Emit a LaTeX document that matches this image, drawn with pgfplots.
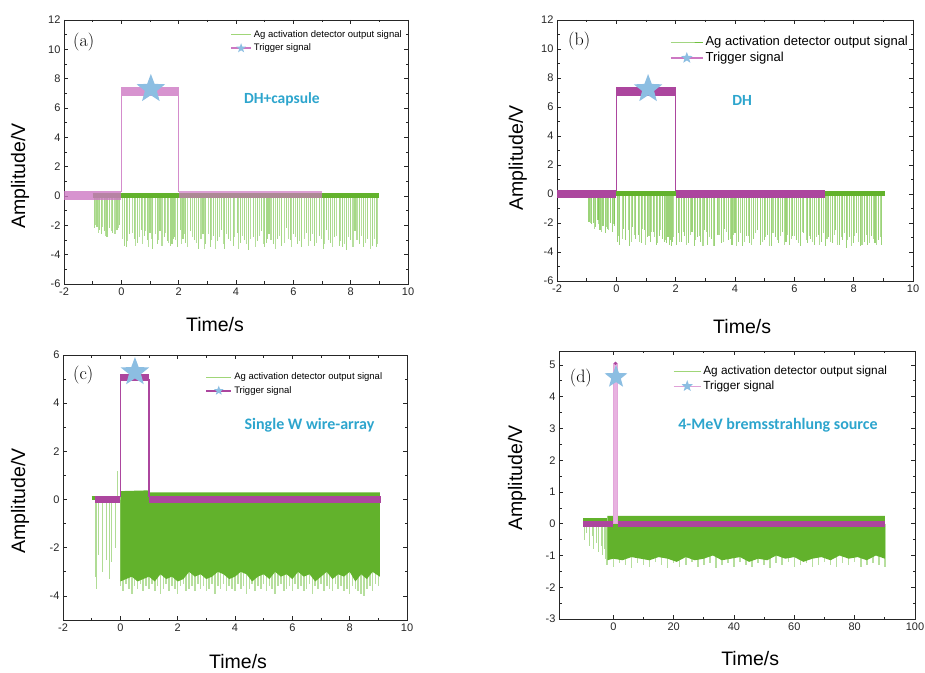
\documentclass[border=0pt]{standalone}
\usepackage{pgfplots}
\pgfplotsset{compat=1.18}
\usepackage{fontspec}
\setsansfont{Liberation Sans}
\newfontfamily\calib{Carlito}
\definecolor{gbase}{RGB}{98,178,44}
\definecolor{gspike}{RGB}{112,192,62}
\definecolor{glight}{RGB}{160,214,120}
\definecolor{magA}{RGB}{205,120,195}
\definecolor{magB}{RGB}{172,70,158}
\definecolor{pinkL}{RGB}{232,178,224}
\definecolor{starblue}{RGB}{140,190,226}
\definecolor{annot}{RGB}{45,165,205}
\pgfdeclareplotmark{fstar}{%
  \pgfpathmoveto{\pgfpointpolar{90}{\pgfplotmarksize}}%
  \pgfpathlineto{\pgfpointpolar{126}{0.42\pgfplotmarksize}}%
  \pgfpathlineto{\pgfpointpolar{162}{\pgfplotmarksize}}%
  \pgfpathlineto{\pgfpointpolar{198}{0.42\pgfplotmarksize}}%
  \pgfpathlineto{\pgfpointpolar{234}{\pgfplotmarksize}}%
  \pgfpathlineto{\pgfpointpolar{270}{0.42\pgfplotmarksize}}%
  \pgfpathlineto{\pgfpointpolar{306}{\pgfplotmarksize}}%
  \pgfpathlineto{\pgfpointpolar{342}{0.42\pgfplotmarksize}}%
  \pgfpathlineto{\pgfpointpolar{18}{\pgfplotmarksize}}%
  \pgfpathlineto{\pgfpointpolar{54}{0.42\pgfplotmarksize}}%
  \pgfpathclose\pgfusepathqfill}
\pgfplotsset{panel/.style={
  scale only axis, anchor=south west,
  axis line style={line width=0.8pt, black!85},
  xtick pos=both, ytick pos=both, tick align=inside,
  major tick length=4pt, minor tick length=2.5pt,
  every tick/.style={black!85, line width=0.7pt},
  minor x tick num=1, minor y tick num=1,
  ticklabel style={font=\sffamily\fontsize{11}{11}\selectfont, text=black!85},
  /pgf/number format/assume math mode=true,
  xlabel={Time/s}, ylabel={Amplitude/V},
  label style={font=\sffamily\fontsize{19.5}{20}\selectfont},
  legend cell align=left,
  legend style={draw=none, fill=none, anchor=north west, inner sep=0pt, row sep=1pt},
}}
\begin{document}
\begin{tikzpicture}
\useasboundingbox (0,0) rectangle (925pt,672pt);
% ---------------- (a)
\begin{axis}[panel, at={(64pt,388pt)}, width=344pt, height=264pt,
  xmin=-2, xmax=10, ymin=-6, ymax=12,
  xtick={-2,0,...,10}, ytick={-6,-4,...,12},
  xlabel style={at={(axis description cs:0.439,-0.155)}, anchor=center},
  ylabel style={at={(axis description cs:-0.128,0.409)}, anchor=center},
  legend style={at={(rel axis cs:0.483,0.968)}, font=\sffamily\fontsize{9.5}{10}\selectfont},
  legend image code/.code={\draw[mark repeat=2,mark phase=2,#1] plot coordinates {(0pt,0pt)(10pt,0pt)(20pt,0pt)};}]
\addlegendimage{glight, line width=0.8pt}
\addlegendentry{Ag activation detector output signal}
\addlegendimage{magA, line width=1.5pt, mark=fstar, mark size=5pt, mark options={fill=starblue, draw=none}}
\addlegendentry{Trigger signal}
\addplot[ycomb, draw=gspike, line width=1.1pt, opacity=0.62, forget plot] coordinates {
(-0.95,-2.2)(-0.85,-2.1)(-0.75,-2.3)(-0.7,-2.6)(-0.6,-2.4)(-0.5,-2.8)(-0.42,-2.2)(-0.3,-2.5)(-0.15,-2.3)(-0.05,-2.0)
(0.1,-3.4)(0.18,-3.5)(0.3,-2.6)(0.45,-2.9)(0.55,-3.2)(0.7,-2.3)(0.8,-2.7)(0.9,-3.0)(1.0,-2.5)(1.1,-3.6)(1.25,-3.3)(1.35,-2.4)(1.5,-2.8)(1.6,-3.1)(1.7,-2.2)(1.73,-3.4)(1.76,-3.3)(1.8,-3.3)(1.83,-2.9)(1.86,-2.8)(1.95,-3.5)
(2.05,-2.3)(2.15,-2.9)(2.25,-3.2)(2.4,-2.4)(2.55,-3.0)(2.7,-3.6)(2.85,-2.6)(2.95,-3.3)(3.1,-3.5)(3.2,-2.7)(3.35,-3.1)(3.5,-2.3)(3.6,-3.6)(3.75,-2.9)(3.9,-3.4)
(4.05,-2.5)(4.15,-3.2)(4.3,-3.0)(4.45,-3.7)(4.6,-2.8)(4.75,-3.1)(4.9,-2.4)(5.0,-3.5)(5.05,-3.2)(5.1,-2.9)(5.15,-2.6)(5.3,-3.3)(5.45,-2.9)(5.6,-3.4)(5.75,-2.2)(5.9,-3.0)
(6.0,-2.6)(6.15,-3.3)(6.3,-3.5)(6.45,-2.5)(6.6,-3.1)(6.75,-3.4)(6.9,-2.7)(7.05,-3.6)(7.15,-2.3)(7.3,-3.2)(7.45,-2.8)(7.6,-3.4)(7.7,-3.5)(7.85,-3.7)
(8.0,-3.0)(8.15,-2.4)(8.3,-3.3)(8.45,-3.5)(8.6,-2.9)(8.75,-3.4)(8.9,-3.5)};
\addplot[ycomb, draw=gspike, line width=1.1pt, opacity=0.5, forget plot] coordinates {
(-0.9,-2.0)(-0.8,-2.5)(-0.65,-2.1)(-0.55,-2.7)(-0.35,-2.4)(-0.22,-2.6)(-0.1,-2.2)(0.05,-2.9)(0.22,-3.1)(0.38,-2.5)(0.5,-3.4)(0.62,-2.8)(0.75,-3.3)(0.85,-2.4)(0.95,-3.5)(1.05,-2.9)(1.18,-2.6)(1.3,-3.0)(1.42,-3.4)(1.55,-2.5)(1.65,-3.2)(1.9,-3.0)
(2.1,-3.3)(2.2,-2.6)(2.32,-3.5)(2.48,-2.8)(2.62,-3.2)(2.78,-2.9)(2.9,-3.6)(3.05,-2.6)(3.15,-3.0)(3.28,-3.6)(3.42,-2.8)(3.55,-3.3)(3.68,-2.6)(3.82,-3.1)(3.95,-2.8)
(4.1,-3.6)(4.22,-2.7)(4.38,-3.3)(4.52,-2.9)(4.68,-3.5)(4.82,-2.7)(4.95,-3.3)(5.22,-3.0)(5.38,-3.6)(5.52,-2.7)(5.68,-3.2)(5.82,-2.9)(5.95,-3.5)
(6.08,-2.8)(6.22,-3.1)(6.38,-2.9)(6.52,-3.4)(6.68,-2.6)(6.82,-3.2)(6.98,-2.9)(7.1,-3.3)(7.22,-3.0)(7.38,-3.5)(7.52,-2.7)(7.65,-3.1)(7.78,-3.3)(7.92,-2.8)
(8.08,-3.5)(8.22,-3.0)(8.38,-2.7)(8.52,-3.2)(8.68,-3.6)(8.82,-2.9)(8.95,-3.3)};
\addplot[gbase, line width=4.5pt, forget plot] coordinates {(-1,0.02)(9,0.02)};
\addplot[magA, line width=1.2pt, opacity=0.85, forget plot] coordinates {(0,0.3)(0,6.8)};
\addplot[magA, line width=1.2pt, opacity=0.85, forget plot] coordinates {(2,6.8)(2,0.3)};
\addplot[magA, line width=9pt, opacity=0.8, forget plot] coordinates {(-2,0)(0,0)};
\addplot[magA, line width=9pt, opacity=0.8, forget plot] coordinates {(0,7.1)(2,7.1)};
\addplot[magA, line width=7pt, opacity=0.7, forget plot] coordinates {(2,0.08)(7,0.08)};
\addplot[only marks, mark=fstar, mark size=15pt, mark options={fill=starblue, draw=none}, forget plot] coordinates {(1.03,7.3)};
\node[anchor=center, font=\calib\bfseries\fontsize{15.5}{16}\selectfont, text=annot] at (axis cs:5.6,6.6) {DH+capsule};
\node[anchor=west, font=\fontsize{18}{18}\selectfont, inner sep=0pt] at (rel axis cs:0.026,0.917) {(a)};
\end{axis}
% ---------------- (b)
\begin{axis}[panel, at={(557pt,391pt)}, width=356pt, height=261pt,
  xmin=-2, xmax=10, ymin=-6, ymax=12,
  xtick={-2,0,...,10}, ytick={-6,-4,...,12},
  xlabel style={at={(axis description cs:0.52,-0.176)}, anchor=center},
  ylabel style={at={(axis description cs:-0.11,0.471)}, anchor=center},
  legend style={at={(rel axis cs:0.317,0.945)}, font=\sffamily\fontsize{13}{14}\selectfont},
  legend image code/.code={\draw[mark repeat=2,mark phase=2,#1] plot coordinates {(0pt,0pt)(16pt,0pt)(32pt,0pt)};}]
\addlegendimage{gspike, line width=1pt}
\addlegendentry{Ag activation detector output signal}
\addlegendimage{magA, line width=1.5pt, mark=fstar, mark size=6pt, mark options={fill=starblue, draw=none}}
\addlegendentry{Trigger signal}
\addplot[ycomb, draw=gspike, line width=1.1pt, opacity=0.7, forget plot] coordinates {
(-0.92,-1.9)(-0.85,-2.1)(-0.78,-2.0)(-0.7,-2.3)(-0.62,-1.8)(-0.55,-2.5)(-0.45,-2.2)(-0.38,-2.7)(-0.3,-2.4)(-0.2,-2.0)(-0.12,-2.6)(-0.05,-2.2)
(0.05,-3.3)(0.12,-3.5)(0.25,-2.4)(0.32,-3.2)(0.45,-3.6)(0.55,-2.3)(0.65,-3.1)(0.75,-2.8)(0.85,-3.4)(0.95,-2.5)(1.05,-3.0)(1.15,-3.3)(1.25,-2.6)(1.35,-3.5)(1.45,-2.9)(1.55,-3.1)(1.62,-3.3)(1.7,-3.4)(1.74,-3.0)(1.78,-3.5)(1.82,-3.2)(1.86,-3.6)(1.9,-3.3)
(2.02,-3.5)(2.1,-2.7)(2.2,-3.3)(2.3,-2.9)(2.42,-3.4)(2.55,-2.6)(2.62,-3.6)(2.75,-3.0)(2.85,-3.3)(2.98,-2.5)(3.08,-3.5)(3.2,-3.1)(3.3,-3.6)(3.42,-2.8)(3.55,-3.4)(3.65,-2.4)(3.78,-3.2)(3.9,-3.5)
(4.0,-2.7)(4.12,-3.3)(4.25,-3.6)(4.38,-2.9)(4.5,-3.4)(4.62,-3.1)(4.75,-2.5)(4.85,-3.5)(4.98,-3.2)(5.1,-2.8)(5.22,-3.6)(5.35,-3.0)(5.48,-3.4)(5.6,-2.6)(5.72,-3.3)(5.85,-3.5)(5.95,-2.9)
(6.08,-3.2)(6.2,-3.6)(6.32,-2.7)(6.45,-3.4)(6.55,-3.1)(6.68,-3.5)(6.8,-2.8)(6.92,-3.3)(7.05,-3.6)(7.15,-3.0)(7.28,-3.4)(7.4,-2.5)(7.52,-3.5)(7.62,-3.2)(7.75,-3.7)(7.85,-3.0)(7.98,-3.4)
(8.1,-2.7)(8.22,-3.6)(8.35,-3.3)(8.48,-3.5)(8.6,-2.9)(8.72,-3.4)(8.85,-3.2)(8.95,-3.5)};
\addplot[ycomb, draw=gspike, line width=1.1pt, opacity=0.55, forget plot] coordinates {
(-0.87,-2.0)(-0.74,-2.4)(-0.6,-2.1)(-0.5,-2.6)(-0.33,-2.3)(-0.25,-2.5)(-0.08,-2.1)(0.08,-2.9)(0.2,-3.1)(0.4,-2.5)(0.5,-3.3)(0.6,-2.8)(0.78,-3.3)(0.88,-2.4)(0.98,-3.5)(1.1,-2.9)(1.2,-2.6)(1.3,-3.0)(1.4,-3.4)(1.5,-2.5)(1.66,-3.2)(1.94,-3.0)
(2.14,-3.3)(2.25,-2.6)(2.36,-3.5)(2.5,-2.8)(2.66,-3.2)(2.8,-2.9)(2.92,-3.6)(3.04,-2.6)(3.15,-3.0)(3.26,-3.6)(3.46,-2.8)(3.6,-3.3)(3.7,-2.6)(3.84,-3.1)(3.95,-2.8)
(4.06,-3.6)(4.2,-2.7)(4.32,-3.3)(4.44,-2.9)(4.56,-3.5)(4.7,-2.7)(4.92,-3.3)(5.04,-3.0)(5.16,-3.6)(5.28,-2.7)(5.42,-3.2)(5.54,-2.9)(5.66,-3.5)(5.78,-2.8)(5.9,-3.1)
(6.02,-2.9)(6.14,-3.4)(6.26,-2.6)(6.4,-3.2)(6.5,-2.9)(6.62,-3.3)(6.74,-3.0)(6.86,-3.5)(6.98,-2.7)(7.1,-3.1)(7.22,-3.3)(7.34,-2.8)(7.46,-3.5)(7.58,-3.0)(7.7,-2.7)(7.8,-3.2)(7.92,-3.6)
(8.04,-2.9)(8.16,-3.3)(8.28,-3.5)(8.42,-2.8)(8.54,-3.4)(8.66,-3.1)(8.78,-3.5)(8.9,-3.0)};
\addplot[gbase, line width=5pt, forget plot] coordinates {(-1,0.02)(9.05,0.02)};
\addplot[magB, line width=1.2pt, forget plot] coordinates {(0,0.2)(0,7)};
\addplot[magB, line width=1.2pt, forget plot] coordinates {(2,7)(2,0.2)};
\addplot[magB, line width=8pt, forget plot] coordinates {(-2,0)(0,0)};
\addplot[magB, line width=9pt, forget plot] coordinates {(0,7.1)(2,7.1)};
\addplot[magB, line width=8pt, forget plot] coordinates {(2,0)(7.05,0)};
\addplot[only marks, mark=fstar, mark size=15pt, mark options={fill=starblue, draw=none}, forget plot] coordinates {(1.07,7.24)};
\node[anchor=center, font=\calib\bfseries\fontsize{15.5}{16}\selectfont, text=annot] at (axis cs:4.24,6.48) {DH};
\node[anchor=west, font=\fontsize{18}{18}\selectfont, inner sep=0pt] at (rel axis cs:0.031,0.92) {(b)};
\end{axis}
% ---------------- (c)
\begin{axis}[panel, at={(63pt,52pt)}, width=344pt, height=265pt,
  xmin=-2, xmax=10, ymin=-5, ymax=6,
  xtick={-2,0,...,10}, ytick={-4,-2,...,6},
  xlabel style={at={(axis description cs:0.509,-0.158)}, anchor=center},
  ylabel style={at={(axis description cs:-0.125,0.449)}, anchor=center},
  legend style={at={(rel axis cs:0.413,0.94)}, font=\sffamily\fontsize{9.5}{10}\selectfont},
  legend image code/.code={\draw[mark repeat=2,mark phase=2,#1] plot coordinates {(0pt,0pt)(12.5pt,0pt)(25pt,0pt)};}]
\addlegendimage{glight, line width=0.8pt}
\addlegendentry{Ag activation detector output signal}
\addlegendimage{magB, line width=2pt, mark=fstar, mark size=5pt, mark options={fill=starblue, draw=none}}
\addlegendentry{Trigger signal}
\addplot[ycomb, draw=gspike, line width=1.6pt, opacity=0.5, forget plot] coordinates {
(0.0,-3.6)(0.1,-3.8)(0.2,-3.5)(0.3,-3.7)(0.4,-3.9)(0.5,-3.6)(0.6,-3.7)(0.7,-3.5)(0.8,-3.8)(0.9,-3.6)(1.0,-3.7)(1.1,-3.5)(1.2,-3.8)(1.3,-3.6)(1.4,-3.9)(1.5,-3.7)(1.6,-3.5)(1.7,-3.8)(1.8,-3.6)(1.9,-3.7)
(2.0,-3.9)(2.1,-3.6)(2.2,-3.5)(2.3,-3.8)(2.4,-3.7)(2.5,-3.6)(2.6,-3.8)(2.7,-3.5)(2.8,-3.7)(2.9,-3.6)(3.0,-3.8)(3.1,-3.7)(3.2,-3.5)(3.3,-3.9)(3.4,-3.6)(3.5,-3.7)(3.6,-3.5)(3.7,-3.8)(3.8,-3.6)(3.9,-3.7)
(4.0,-3.8)(4.1,-3.5)(4.2,-3.7)(4.3,-3.6)(4.4,-3.9)(4.5,-3.7)(4.6,-3.5)(4.7,-3.8)(4.8,-3.6)(4.9,-3.7)(5.0,-3.5)(5.1,-3.8)(5.2,-3.6)(5.3,-3.7)(5.4,-3.9)(5.5,-3.6)(5.6,-3.5)(5.7,-3.8)(5.8,-3.7)(5.9,-3.6)
(6.0,-3.8)(6.1,-3.5)(6.2,-3.7)(6.3,-3.6)(6.4,-3.8)(6.5,-3.7)(6.6,-3.5)(6.7,-3.9)(6.8,-3.6)(6.9,-3.7)(7.0,-3.5)(7.1,-3.8)(7.2,-3.6)(7.3,-3.7)(7.4,-3.8)(7.5,-3.5)(7.6,-3.7)(7.7,-3.6)(7.8,-3.8)(7.9,-3.7)
(8.0,-3.9)(8.1,-3.6)(8.2,-3.7)(8.3,-3.8)(8.4,-3.9)(8.5,-4.0)(8.6,-3.7)(8.7,-3.6)(8.8,-3.8)(8.9,-3.5)(9.0,-3.6)};
\addplot[fill=gbase, draw=none, forget plot] coordinates {
(0,0.35)(0.95,0.38)(1.0,0.3)(9.05,0.3)(9.05,-3.2)(8.8,-3.0)(8.6,-3.3)(8.4,-3.1)(8.2,-3.4)(8.0,-3.0)(7.8,-3.2)(7.6,-3.1)(7.4,-3.3)(7.2,-3.0)(7.0,-3.2)(6.8,-3.4)(6.6,-3.1)(6.4,-3.2)(6.2,-3.0)(6.0,-3.3)(5.8,-3.1)(5.6,-3.2)(5.4,-3.0)(5.2,-3.3)(5.0,-3.1)(4.8,-3.2)(4.6,-3.4)(4.4,-3.1)(4.2,-3.0)(4.0,-3.2)(3.8,-3.3)(3.6,-3.1)(3.4,-3.0)(3.2,-3.2)(3.0,-3.3)(2.8,-3.1)(2.6,-3.2)(2.4,-3.0)(2.2,-3.3)(2.0,-3.4)(1.8,-3.2)(1.6,-3.3)(1.4,-3.1)(1.2,-3.4)(1.0,-3.2)(0.8,-3.3)(0.6,-3.4)(0.4,-3.2)(0.2,-3.3)(0.0,-3.4)} \closedcycle;
\addplot[ycomb, draw=gspike, line width=0.9pt, opacity=0.55, forget plot] coordinates {
(-0.88,-3.2)(-0.82,-3.7)(-0.75,-2.3)(-0.62,-3.0)(-0.5,-2.5)(-0.38,-3.3)(-0.3,-2.6)(-0.18,-2.0)(-0.1,1.2)};
\addplot[gbase, line width=4pt, forget plot] coordinates {(-1,0.05)(0,0.05)};
\addplot[magB, line width=1.5pt, forget plot] coordinates {(0,0.1)(0,5.0)};
\addplot[magB, line width=1.5pt, forget plot] coordinates {(1,5.0)(1,0.1)};
\addplot[magB, line width=7pt, forget plot] coordinates {(-0.9,0)(0,0)};
\addplot[magB, line width=7pt, forget plot] coordinates {(0,5.05)(1,5.05)};
\addplot[magB, line width=7pt, forget plot] coordinates {(1,0)(9.1,0)};
\addplot[only marks, mark=fstar, mark size=15pt, mark options={fill=starblue, draw=none}, forget plot] coordinates {(0.51,5.29)};
\node[anchor=center, font=\calib\bfseries\fontsize{16}{16}\selectfont, text=annot] at (axis cs:6.6,3.1) {Single W wire-array};
\node[anchor=west, font=\fontsize{18}{18}\selectfont, inner sep=0pt] at (rel axis cs:0.029,0.925) {(c)};
\end{axis}
% ---------------- (d)
\begin{axis}[panel, at={(559pt,53pt)}, width=356pt, height=268pt,
  xmin=-18, xmax=100, ymin=-3, ymax=5.44,
  xtick={0,20,...,100}, ytick={-3,-2,...,5},
  xlabel style={at={(axis description cs:0.537,-0.148)}, anchor=center},
  ylabel style={at={(axis description cs:-0.118,0.526)}, anchor=center},
  legend style={at={(rel axis cs:0.32,0.952)}, font=\sffamily\fontsize{11.8}{13}\selectfont},
  legend image code/.code={\draw[mark repeat=2,mark phase=2,#1] plot coordinates {(0pt,0pt)(13.5pt,0pt)(27pt,0pt)};}]
\addlegendimage{glight, line width=1pt}
\addlegendentry{Ag activation detector output signal}
\addlegendimage{pinkL!70!magA, line width=1.2pt, mark=fstar, mark size=6pt, mark options={fill=starblue, draw=none}}
\addlegendentry{Trigger signal}
\addplot[ycomb, draw=gspike, line width=1.6pt, opacity=0.5, forget plot] coordinates {
(-2,-1.3)(0,-1.35)(2,-1.25)(4,-1.3)(6,-1.4)(8,-1.25)(10,-1.3)(12,-1.35)(14,-1.2)(16,-1.3)(18,-1.4)(20,-1.25)(22,-1.35)(24,-1.3)(26,-1.2)(28,-1.35)(30,-1.3)(32,-1.25)(34,-1.4)(36,-1.3)(38,-1.25)(40,-1.35)(42,-1.2)(44,-1.3)(46,-1.35)
(48,-1.25)(50,-1.3)(52,-1.4)(54,-1.25)(56,-1.3)(58,-1.2)(60,-1.35)(62,-1.3)(64,-1.25)(66,-1.35)(68,-1.3)(70,-1.2)(72,-1.3)(74,-1.35)(76,-1.25)(78,-1.3)(80,-1.2)(82,-1.35)(84,-1.3)(86,-1.25)(88,-1.3)(90,-1.35)};
\addplot[fill=gbase, draw=none, forget plot] coordinates {
(-2,0.25)(90,0.25)(90,-1.1)(87,-1.0)(84,-1.15)(81,-1.05)(78,-1.1)(75,-1.0)(72,-1.15)(69,-1.05)(66,-1.1)(63,-1.2)(60,-1.05)(57,-1.1)(54,-1.0)(51,-1.15)(48,-1.1)(45,-1.2)(42,-1.05)(39,-1.1)(36,-1.15)(33,-1.0)(30,-1.1)(27,-1.15)(24,-1.05)(21,-1.2)(18,-1.1)(15,-1.05)(12,-1.15)(9,-1.1)(6,-1.05)(3,-1.15)(0,-1.1)(-2,-1.15)} \closedcycle;
\addplot[ycomb, draw=gspike, line width=0.9pt, opacity=0.55, forget plot] coordinates {
(-9.5,-0.5)(-8.8,-0.3)(-8,-0.7)(-7,-0.4)(-6.5,-0.8)(-5.5,-0.6)(-4.8,-0.9)(-4,-0.7)(-3.5,-1.0)(-3,-0.8)(-2.5,-1.1)};
\addplot[gbase, line width=8pt, forget plot] coordinates {(-10,0.05)(-2,0.05)};
\addplot[fill=pinkL, draw=pinkL!80!magA, line width=0.8pt, forget plot] coordinates {(0,0.2)(0,5.05)(1.3,5.05)(1.3,0.2)} \closedcycle;
\addplot[magB, line width=6pt, forget plot] coordinates {(-10,0)(0,0)};
\addplot[magB, line width=6pt, forget plot] coordinates {(1.6,0)(90,0)};
\addplot[only marks, mark=*, mark size=1.5pt, magB, forget plot] coordinates {(0.7,5.05)};
\addplot[only marks, mark=fstar, mark size=12pt, mark options={fill=starblue, draw=none}, forget plot] coordinates {(0.9,4.62)};
\node[anchor=center, font=\calib\bfseries\fontsize{16}{16}\selectfont, text=annot] at (axis cs:54.6,3.1) {4-MeV bremsstrahlung source};
\node[anchor=west, font=\fontsize{18}{18}\selectfont, inner sep=0pt] at (rel axis cs:0.03,0.9) {(d)};
\end{axis}
\end{tikzpicture}
\end{document}
